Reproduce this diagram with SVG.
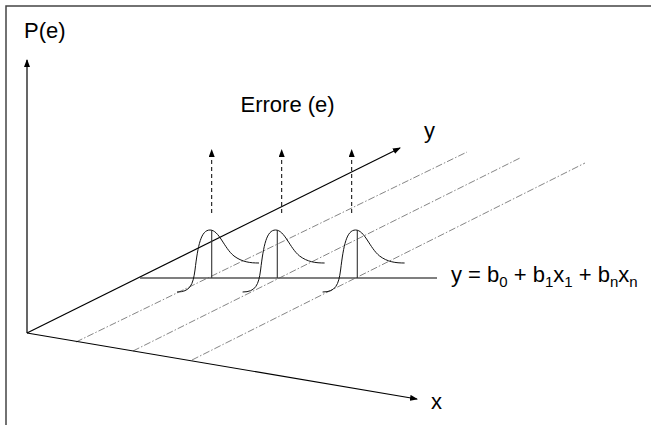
<svg xmlns="http://www.w3.org/2000/svg" width="651" height="425" viewBox="0 0 651 425">
<style>
text{font-family:"Liberation Sans",Arial,sans-serif;fill:#000}
.lbl{font-size:22px}
.sub{font-size:15px}
.axis{stroke:#000;stroke-width:1.2;fill:none}
.dd{stroke:#777;stroke-width:0.9;fill:none;stroke-dasharray:7 2 1.5 2}
.va{stroke:#000;stroke-width:1;fill:none;stroke-dasharray:4 3}
.bell{stroke:#111;stroke-width:1;fill:none}
.stem{stroke:#333;stroke-width:1.1}
</style>
<defs>
<marker id="ah" markerUnits="userSpaceOnUse" markerWidth="8" markerHeight="6" refX="7" refY="3" orient="auto">
<path d="M0,0 L8,3 L0,6 z" fill="#000"/>
</marker>
<g id="bellshape">
<path class="bell" d="M177,292 C190,292 193,285 195,270 C198,245 201,230 210,230 C219,230 224,248 234,256 C242,262 250,263 259,263"/>
<line class="stem" x1="211.7" y1="230" x2="211.7" y2="278"/>
</g>
</defs>
<rect x="6" y="6" width="700" height="500" fill="#fff" stroke="#444" stroke-width="1.5"/>
<g id="connectors">
<line class="dd" x1="76" y1="342" x2="467" y2="152"/>
<line class="dd" x1="133" y1="351" x2="520" y2="158"/>
<line class="dd" x1="192" y1="360" x2="585" y2="163"/>
<line class="axis" x1="27" y1="333" x2="27" y2="60" marker-end="url(#ah)"/>
<line class="axis" x1="27" y1="333" x2="400" y2="148" marker-end="url(#ah)"/>
<line class="axis" x1="27" y1="333" x2="417" y2="399" marker-end="url(#ah)"/>
<line x1="140" y1="278" x2="437" y2="278" stroke="#555" stroke-width="1.5"/>
<line class="va" x1="211.7" y1="213" x2="211.7" y2="150" marker-end="url(#ah)"/>
<line class="va" x1="281.7" y1="213" x2="281.7" y2="150" marker-end="url(#ah)"/>
<line class="va" x1="351.7" y1="213" x2="351.7" y2="150" marker-end="url(#ah)"/>
</g>
<g id="bell1"><use href="#bellshape"/></g>
<g id="bell2"><use href="#bellshape" transform="translate(65.6,0)"/></g>
<g id="bell3"><use href="#bellshape" transform="translate(145.6,0)"/></g>
<g id="label-pe"><text class="lbl" x="24" y="37.5">P(e)</text></g>
<g id="label-errore"><text class="lbl" x="240.5" y="111.7">Errore (e)</text></g>
<g id="label-y"><text class="lbl" x="424" y="137.5">y</text></g>
<g id="label-x"><text class="lbl" x="431" y="409">x</text></g>
<g id="label-eq"><text class="lbl" x="451" y="281.5">y = b<tspan class="sub" dy="5">0</tspan><tspan dy="-5"> + b</tspan><tspan class="sub" dy="5">1</tspan><tspan dy="-5">x</tspan><tspan class="sub" dy="5">1</tspan><tspan dy="-5"> + b</tspan><tspan class="sub" dy="5">n</tspan><tspan dy="-5">x</tspan><tspan class="sub" dy="5">n</tspan></text></g>
</svg>
